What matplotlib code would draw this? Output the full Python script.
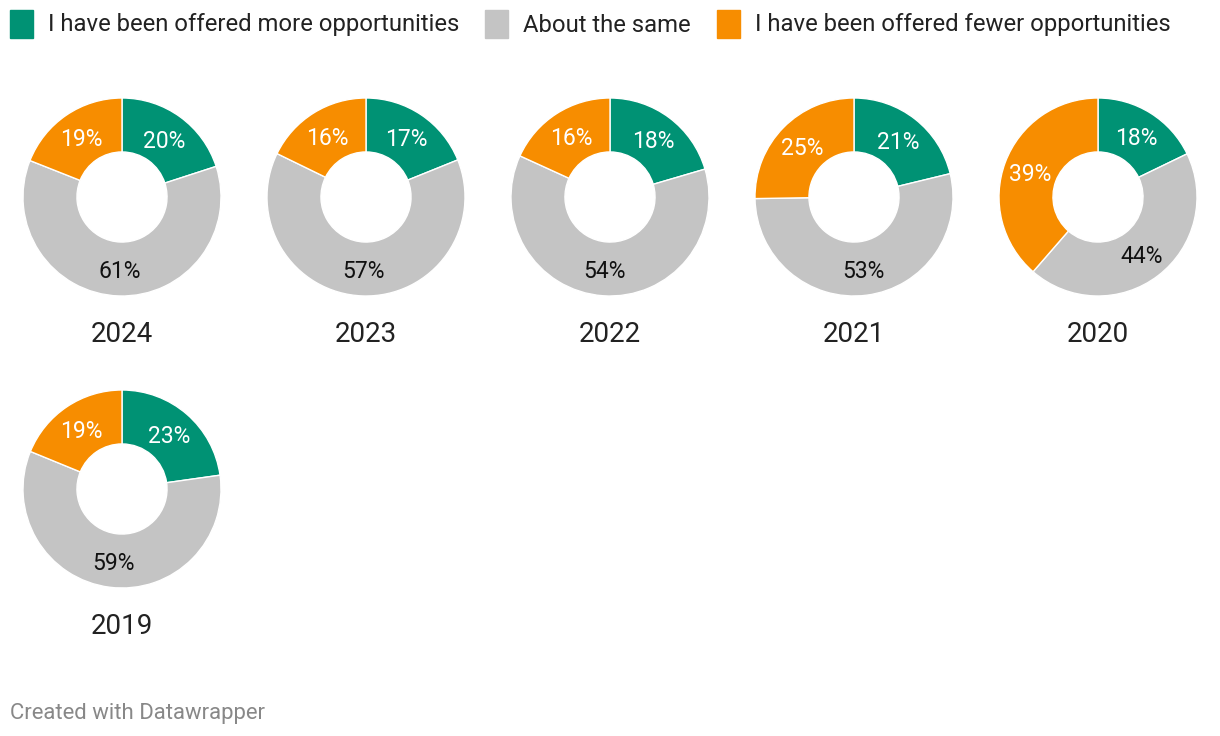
import numpy as np
import matplotlib.pyplot as plt
from matplotlib.patches import Rectangle

plt.rcParams['font.family'] = ['Roboto', 'DejaVu Sans']

years = ['2024', '2023', '2022', '2021', '2020', '2019']
more = [20, 17, 18, 21, 18, 23]
same = [61, 57, 54, 53, 44, 59]
fewer = [19, 16, 16, 25, 39, 19]

series = ['I have been offered more opportunities', 'About the same',
          'I have been offered fewer opportunities']
colors = ['#009274', '#c4c4c4', '#f78d00']
label_colors = ['white', '#111111', 'white']

W, H = 1220, 736
fig = plt.figure(figsize=(W / 100, H / 100), dpi=100)

# legend
leg_x = [10, 485, 717]
for x, name, c in zip(leg_x, series, colors):
    fig.patches.append(Rectangle((x / W, 1 - 38 / H), 23 / W, 28 / H,
                                 transform=fig.transFigure, color=c))
    fig.text((x + 38) / W, 1 - 25 / H, name, fontsize=17.2, color='#222222',
             va='center', ha='left')

R = 99
centers = [(122, 197), (366, 197), (610, 197), (854, 197), (1098, 197), (122, 489)]
for (cx, cy), yr, m, s, f in zip(centers, years, more, same, fewer):
    ax = fig.add_axes([(cx - R) / W, 1 - (cy + R) / H, 2 * R / W, 2 * R / H])
    vals = [m, s, f]
    ax.pie(vals, colors=colors, startangle=90, counterclock=False, radius=1,
           wedgeprops=dict(width=0.545, edgecolor='white', linewidth=1))
    start = 90.0
    total = sum(vals)
    for v, lc in zip(vals, label_colors):
        mid = start - v / total * 360 / 2
        r = 0.73
        ax.text(r * np.cos(np.radians(mid)), r * np.sin(np.radians(mid)) - 0.025, f'{v}%',
                ha='center', va='center', fontsize=16.5, color=lc)
        start -= v / total * 360
    ax.set_xlim(-1, 1)
    ax.set_ylim(-1, 1)
    ax.set_aspect('equal')
    ax.axis('off')
    fig.text(cx / W, 1 - (cy + 137) / H, yr, ha='center', va='center',
             fontsize=20, color='#222222')

fig.text(10 / W, 1 - 713 / H, 'Created with Datawrapper', ha='left', va='center',
         fontsize=15.9, color='#888888')

fig.savefig('out.png', dpi=100)
